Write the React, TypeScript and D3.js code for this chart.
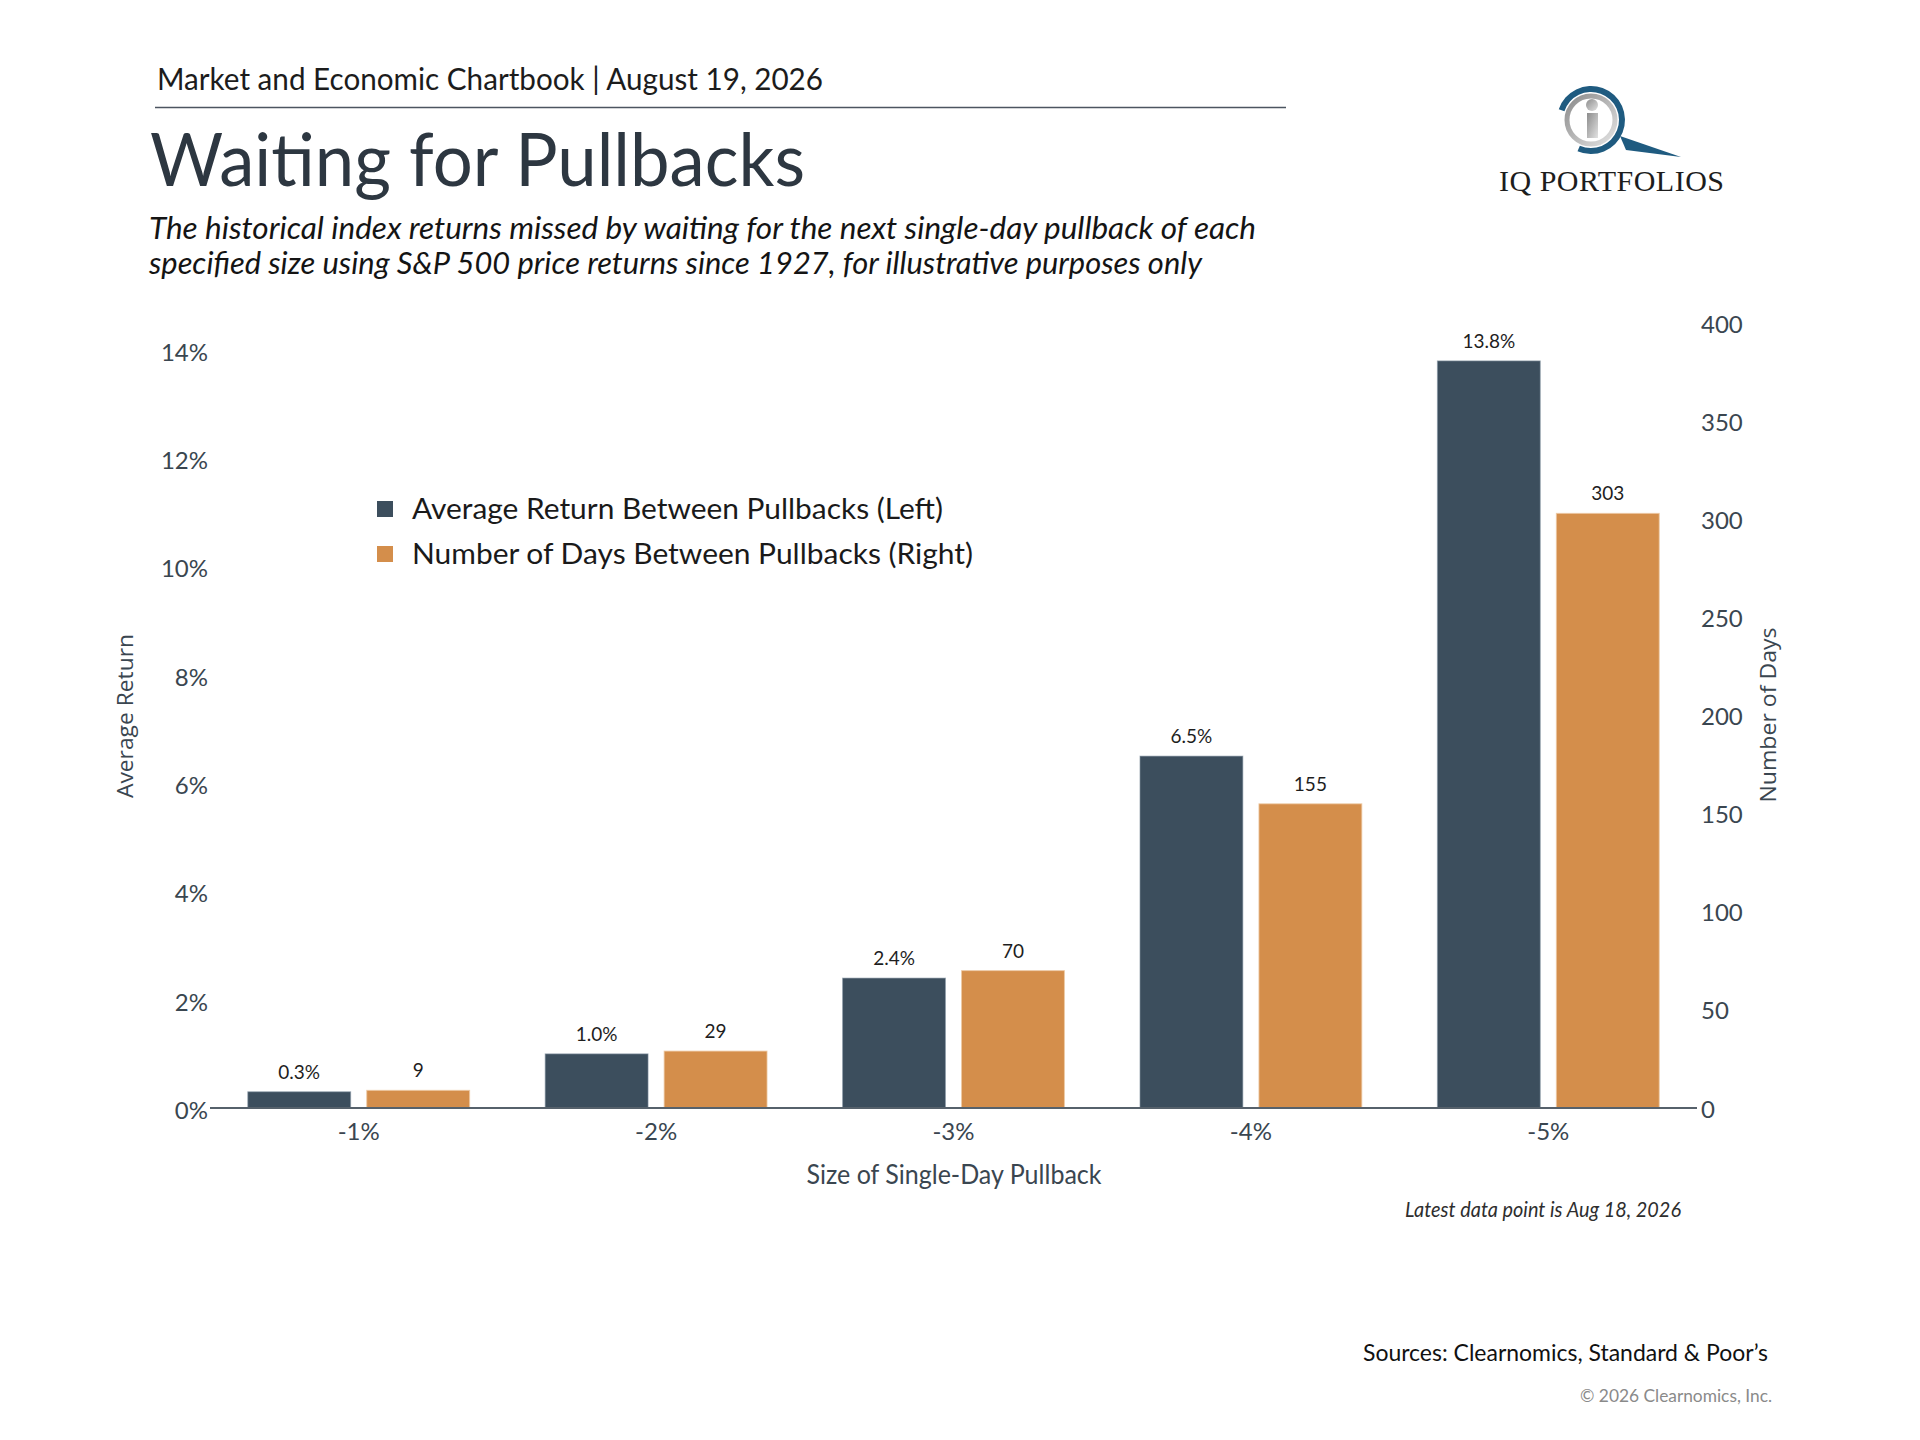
import { arc as d3Arc, scaleBand, scaleLinear } from "d3";

const categories = ["-1%", "-2%", "-3%", "-4%", "-5%"];
const avgReturn = [0.3, 1.0, 2.4, 6.5, 13.8];
const daysBetween = [9, 29, 70, 155, 303];
const leftTicks = [0, 2, 4, 6, 8, 10, 12, 14];
const rightTicks = [0, 50, 100, 150, 200, 250, 300, 350, 400];
const seriesNames = [
  "Average Return Between Pullbacks (Left)",
  "Number of Days Between Pullbacks (Right)",
];

const DARK = "#3c4e5d";
const ORANGE = "#d48e4b";
const AXIS_TEXT = "#3a4650";
const FONT = "Lato, 'Noto Sans', sans-serif";

const plot = { left: 210, right: 1697, top: 323, bottom: 1108 };

function Logo() {
  const cx = 1591;
  const cy = 120;
  const blue = d3Arc()({
    innerRadius: 28,
    outerRadius: 34,
    startAngle: -1.25,
    endAngle: 3.55,
  }) ?? "";
  return (
    <g>
      <defs>
        <linearGradient id="iq-gray" x1="0" y1="0" x2="1" y2="1">
          <stop offset="0%" stopColor="#8c8c8c" />
          <stop offset="100%" stopColor="#e2e2e2" />
        </linearGradient>
      </defs>
      <path d={blue} transform={`translate(${cx},${cy})`} fill="#1f5b80" />
      <circle cx={cx} cy={cy} r={24} fill="none" stroke="url(#iq-gray)" strokeWidth={5} />
      <circle cx={cx + 1} cy={cy - 15} r={6} fill="url(#iq-gray)" />
      <rect x={cx - 4} y={cy - 7} width={11} height={25} fill="url(#iq-gray)" />
      <polygon points={`${cx + 29},${cy + 16} ${cx + 90},${cy + 37} ${cx + 35},${cy + 30}`} fill="#1f5b80" />
      <text
        x={1499}
        y={191}
        fontFamily="'Liberation Serif', 'DejaVu Serif', serif"
        fontSize={30}
        fill="#1d1d1d"
        textLength={225}
        lengthAdjust="spacing"
      >
        IQ PORTFOLIOS
      </text>
    </g>
  );
}

export default function App() {
  const x = scaleBand<string>()
    .domain(categories)
    .range([plot.left, plot.right])
    .paddingInner(0.254)
    .paddingOuter(0.127);
  const xSub = scaleBand<string>()
    .domain(["ret", "days"])
    .range([0, x.bandwidth()])
    .paddingInner(0.135);
  const yL = scaleLinear().domain([0, 14.5]).range([plot.bottom, plot.top]);
  const yR = scaleLinear().domain([0, 400]).range([plot.bottom, plot.top]);

  return (
    <div style={{ position: "absolute", left: 0, top: 0 }}>
      <svg width={1920} height={1440} viewBox="0 0 1920 1440" style={{ display: "block", background: "#fff" }}>
        {/* Header */}
        <text x={157} y={90} fontFamily={FONT} fontSize={30} fill="#1c1c1c" textLength={666} lengthAdjust="spacingAndGlyphs">
          Market and Economic Chartbook | August 19, 2026
        </text>
        <line x1={155} x2={1286} y1={107.5} y2={107.5} stroke="#4c5560" strokeWidth={1.5} />
        <text x={150} y={186} fontFamily={FONT} fontSize={74} fill="#2d3741" textLength={655} lengthAdjust="spacingAndGlyphs">
          Waiting for Pullbacks
        </text>
        <text x={149} y={239} fontFamily={FONT} fontStyle="italic" fontSize={31} fill="#141414" textLength={1107} lengthAdjust="spacingAndGlyphs">
          The historical index returns missed by waiting for the next single-day pullback of each
        </text>
        <text x={149} y={274} fontFamily={FONT} fontStyle="italic" fontSize={31} fill="#141414" textLength={1053} lengthAdjust="spacingAndGlyphs">
          specified size using S&amp;P 500 price returns since 1927, for illustrative purposes only
        </text>

        <Logo />

        {/* Left axis labels */}
        {leftTicks.map((t) => (
          <text key={t} x={208} y={yL(t)} dy="0.45em" textAnchor="end" fontFamily={FONT} fontSize={24} fill={AXIS_TEXT}>
            {t}%
          </text>
        ))}
        {/* Right axis labels */}
        {rightTicks.map((t) => (
          <text key={t} x={1701} y={yR(t)} dy="0.4em" textAnchor="start" fontFamily={FONT} fontSize={24} fill={AXIS_TEXT}>
            {t}
          </text>
        ))}

        {/* Bars */}
        {categories.map((c, i) => {
          const x0 = x(c) ?? 0;
          const xr = x0 + (xSub("ret") ?? 0);
          const xd = x0 + (xSub("days") ?? 0);
          const bw = xSub.bandwidth();
          return (
            <g key={c}>
              <rect x={xr} y={yL(avgReturn[i])} width={bw} height={plot.bottom - yL(avgReturn[i])} fill={DARK} stroke="#8b9aa6" strokeWidth={1} strokeOpacity={0.6} />
              <rect x={xd} y={yR(daysBetween[i])} width={bw} height={plot.bottom - yR(daysBetween[i])} fill={ORANGE} stroke="#eec9a4" strokeWidth={1} strokeOpacity={0.8} />
              <text x={xr + bw / 2} y={yL(avgReturn[i]) - 13} textAnchor="middle" fontFamily={FONT} fontSize={19} fill="#1e1e1e">
                {avgReturn[i].toFixed(1)}%
              </text>
              <text x={xd + bw / 2} y={yR(daysBetween[i]) - 13} textAnchor="middle" fontFamily={FONT} fontSize={19} fill="#1e1e1e">
                {daysBetween[i]}
              </text>
              <text x={x0 + x.bandwidth() / 2} y={1140} textAnchor="middle" fontFamily={FONT} fontSize={24} fill={AXIS_TEXT}>
                {c}
              </text>
            </g>
          );
        })}

        {/* Zero axis line */}
        <line x1={plot.left} x2={plot.right} y1={plot.bottom} y2={plot.bottom} stroke="#56616b" strokeWidth={2} />

        {/* Axis titles */}
        <text transform="translate(133,716) rotate(-90)" textAnchor="middle" fontFamily="'Open Sans', sans-serif" fontSize={22} fill={AXIS_TEXT} textLength={164} lengthAdjust="spacingAndGlyphs">
          Average Return
        </text>
        <text transform="translate(1776,715) rotate(-90)" textAnchor="middle" fontFamily="'Open Sans', sans-serif" fontSize={22} fill={AXIS_TEXT} textLength={175} lengthAdjust="spacingAndGlyphs">
          Number of Days
        </text>
        <text x={954} y={1184} textAnchor="middle" fontFamily={FONT} fontSize={26} fill={AXIS_TEXT} textLength={295} lengthAdjust="spacingAndGlyphs">
          Size of Single-Day Pullback
        </text>

        {/* Legend */}
        {seriesNames.map((name, i) => (
          <g key={name} transform={`translate(377,${501 + i * 45})`}>
            <rect width={16} height={16} fill={i === 0 ? DARK : ORANGE} />
            <text x={35} y={18} fontFamily={FONT} fontSize={28} fill="#1a1a1a" textLength={i === 0 ? 531 : 561} lengthAdjust="spacingAndGlyphs">
              {name}
            </text>
          </g>
        ))}

        {/* Notes */}
        <text x={1681} y={1217} textAnchor="end" fontFamily={FONT} fontStyle="italic" fontSize={21} fill="#2e2e2e" textLength={276} lengthAdjust="spacingAndGlyphs">
          Latest data point is Aug 18, 2026
        </text>
        <text x={1768} y={1361} textAnchor="end" fontFamily={FONT} fontSize={24} fill="#111" textLength={405} lengthAdjust="spacingAndGlyphs">
          Sources: Clearnomics, Standard &amp; Poor’s
        </text>
        <text x={1772} y={1402} textAnchor="end" fontFamily={FONT} fontSize={18} fill="#8a8a8a" textLength={192} lengthAdjust="spacingAndGlyphs">
          © 2026 Clearnomics, Inc.
        </text>
      </svg>
    </div>
  );
}
